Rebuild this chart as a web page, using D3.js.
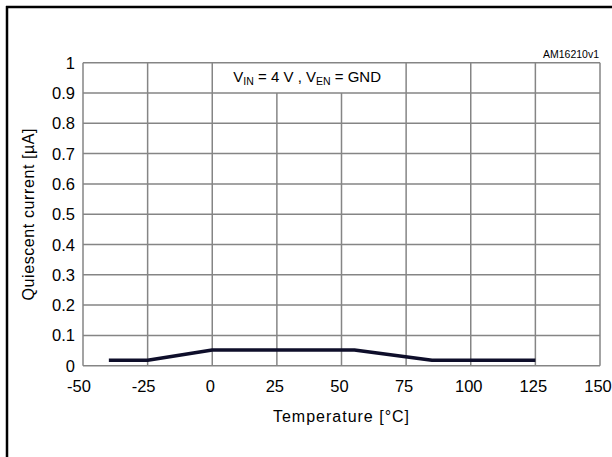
<body style="margin:0">
<script src="https://d3js.org/d3.v7.min.js"></script>
<script>
// page size
var svgWidth = 612;
var svgHeight = 457;

// data
var temps = [-40, -25, 0, 55, 85, 125];
var current = [0.018, 0.018, 0.052, 0.052, 0.018, 0.018];
var xTicks = [-50, -25, 0, 25, 50, 75, 100, 125, 150];
var yTicks = [0, 0.1, 0.2, 0.3, 0.4, 0.5, 0.6, 0.7, 0.8, 0.9, 1];
var yTickLabels = ['0', '0.1', '0.2', '0.3', '0.4', '0.5', '0.6', '0.7', '0.8', '0.9', '1'];

// plot box (note: "top" is reserved on window, so use plot* names)
var plotLeft = 83, plotRight = 600, plotTop = 62.7, plotBottom = 365.7;
var gridColor = '#858585';
var font = 'Liberation Sans, Arial, sans-serif';

var svg = d3.select('body').append('svg')
	.attr('width', svgWidth)
	.attr('height', svgHeight)
	.style('display', 'block');

var x = d3.scaleLinear().domain([-50, 150]).range([plotLeft, plotRight]);
var y = d3.scaleLinear().domain([0, 1]).range([plotBottom, plotTop]);

// outer frame (only top and left edges visible)
svg.append('line').attr('x1', 6).attr('x2', svgWidth).attr('y1', 7).attr('y2', 7)
	.attr('stroke', '#000').attr('stroke-width', 2.5);
svg.append('line').attr('x1', 7).attr('x2', 7).attr('y1', 6).attr('y2', svgHeight)
	.attr('stroke', '#000').attr('stroke-width', 2.5);

// grid
svg.selectAll('.hgrid')
	.data(yTicks)
	.enter().append('line')
	.attr('class', 'hgrid')
	.attr('x1', plotLeft).attr('x2', plotRight)
	.attr('y1', function(d){ return y(d) })
	.attr('y2', function(d){ return y(d) })
	.attr('stroke', gridColor).attr('stroke-width', 1.5);

svg.selectAll('.vgrid')
	.data(xTicks)
	.enter().append('line')
	.attr('class', 'vgrid')
	.attr('x1', function(d){ return x(d) })
	.attr('x2', function(d){ return x(d) })
	.attr('y1', function(d){
		// the annotation cell hides the 25 and 50 lines in the top row
		return (d == 25 || d == 50) ? y(0.9) : plotTop
	})
	.attr('y2', plotBottom)
	.attr('stroke', gridColor).attr('stroke-width', 1.5);

// tick labels
svg.selectAll('.ylab')
	.data(yTicks)
	.enter().append('text')
	.attr('class', 'ylab')
	.attr('x', 75)
	.attr('y', function(d){ return y(d) + 6 })
	.attr('text-anchor', 'end')
	.attr('font-family', font).attr('font-size', 16.5)
	.text(function(d, i){ return yTickLabels[i] });

svg.selectAll('.xlab')
	.data(xTicks)
	.enter().append('text')
	.attr('class', 'xlab')
	.attr('x', function(d){ return x(d) - (d < 0 ? 4 : 2) })
	.attr('y', 391.5)
	.attr('text-anchor', 'middle')
	.attr('font-family', font).attr('font-size', 16.5)
	.text(function(d){ return d });

// axis titles
svg.append('text')
	.attr('x', (plotLeft + plotRight) / 2).attr('y', 421.5)
	.attr('text-anchor', 'middle')
	.attr('font-family', font).attr('font-size', 16)
	.attr('letter-spacing', 1)
	.text('Temperature [°C]');

svg.append('text')
	.attr('transform', 'translate(34,' + ((plotTop + plotBottom) / 2) + ') rotate(-90)')
	.attr('text-anchor', 'middle')
	.attr('font-family', font).attr('font-size', 16)
	.attr('letter-spacing', 0.6)
	.text('Quiescent current [µA]');

// annotation
var note = svg.append('text')
	.attr('x', x(0) + (x(75) - x(0)) / 2 - 2).attr('y', 81.5)
	.attr('text-anchor', 'middle')
	.attr('font-family', font).attr('font-size', 15);
note.append('tspan').text('V');
note.append('tspan').attr('font-size', 10.5).attr('dy', 3).text('IN');
note.append('tspan').attr('dy', -3).text(' = 4 V , V');
note.append('tspan').attr('font-size', 10.5).attr('dy', 3).text('EN');
note.append('tspan').attr('dy', -3).text(' = GND');

svg.append('text')
	.attr('x', 599).attr('y', 58)
	.attr('text-anchor', 'end')
	.attr('font-family', font).attr('font-size', 10.5)
	.text('AM16210v1');

// data line
var line = d3.line()
	.x(function(d, i){ return x(temps[i]) })
	.y(function(d){ return y(d) });

svg.append('path')
	.datum(current)
	.attr('d', line)
	.attr('fill', 'none')
	.attr('stroke', '#0e0e2a')
	.attr('stroke-width', 3.6)
	.attr('stroke-linejoin', 'round');
</script>
</body>
